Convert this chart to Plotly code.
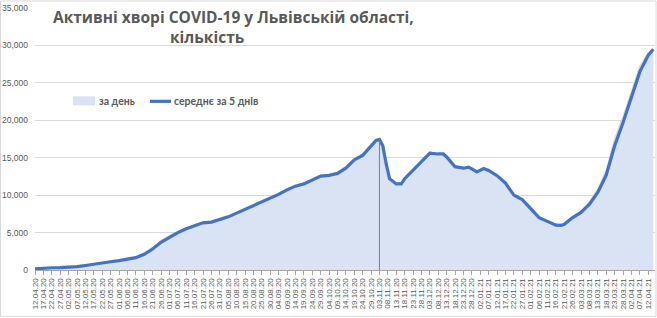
import plotly.graph_objects as go

dates = ["2020-04-12","2020-04-17","2020-04-22","2020-04-27","2020-05-02","2020-05-07","2020-05-12",
         "2020-05-17","2020-05-22","2020-05-27","2020-06-01","2020-06-06","2020-06-11","2020-06-16",
         "2020-06-21","2020-06-26","2020-07-01","2020-07-06","2020-07-11","2020-07-16","2020-07-21",
         "2020-07-26","2020-07-31","2020-08-05","2020-08-10","2020-08-15","2020-08-20","2020-08-25",
         "2020-08-30","2020-09-04","2020-09-09","2020-09-14","2020-09-19","2020-09-24","2020-09-29",
         "2020-10-04","2020-10-09","2020-10-14","2020-10-19","2020-10-24","2020-10-29","2020-11-01",
         "2020-11-03","2020-11-05","2020-11-07","2020-11-09","2020-11-13","2020-11-16","2020-11-18",
         "2020-11-23","2020-11-28","2020-12-03","2020-12-08","2020-12-11","2020-12-13","2020-12-18",
         "2020-12-23","2020-12-26","2020-12-28","2020-12-31","2021-01-04","2021-01-07","2021-01-12",
         "2021-01-17","2021-01-22","2021-01-27","2021-02-01","2021-02-06","2021-02-11","2021-02-16",
         "2021-02-19","2021-02-21","2021-02-26","2021-03-03","2021-03-08","2021-03-13","2021-03-18",
         "2021-03-23","2021-03-28","2021-04-02","2021-04-07","2021-04-12","2021-04-15"]

avg5 = [150,250,300,330,380,450,600,800,950,1100,1250,1400,1650,2100,2800,3700,4400,5000,5500,5900,
        6300,6400,6700,7100,7600,8100,8600,9000,9500,10100,10700,11200,11500,12000,12550,12650,12900,
        13600,14700,15300,16500,17300,17450,16600,14200,12200,11500,11500,12200,13300,14400,15600,
        15500,15500,15100,13800,13600,13750,13500,13100,13550,13300,12600,11600,10000,9400,8200,7000,
        6500,6000,5950,6100,7000,7700,8800,10400,12700,16600,19700,23100,26500,28700,29500]

daily = [200,270,310,350,400,500,650,850,980,1150,1300,1450,1750,2300,3050,3950,4650,5200,5650,6050,
         6350,6450,6800,7200,7700,8250,8700,9150,9650,10250,10850,11300,11600,12150,12600,12700,13000,
         13900,14900,15600,16900,17450,17400,15500,12800,11800,11450,11700,12400,13500,14700,15800,
         15500,15400,14700,13700,13700,13700,13400,13200,13500,13100,12400,11300,9800,9200,8000,6900,
         6400,5950,6000,6200,7150,7900,9100,10900,13400,17600,20600,24000,27300,29000,29600]

marker_date = "2020-11-03"
title_line1 = "Активні хворі COVID-19 у Львівській області,"
title_line2 = "кількість"
name_daily = "за день"
name_avg = "середнє за 5 днів"

grey_text = "#595959"
area_color = "#dae3f3"
line_color = "#4472c4"

# plot area in pixels (for converting layout positions to paper fractions)
L, R, T, B = 35, 655, 7.5, 270
def px(xp):
    return (xp - L) / (R - L)
def py(yp):
    return (B - yp) / (B - T)

fig = go.Figure()
fig.add_trace(go.Scatter(x=dates, y=daily, mode="lines", fill="tozeroy",
                         fillcolor=area_color, line=dict(color="#cfd9ec", width=1),
                         name=name_daily, showlegend=False))
fig.add_trace(go.Scatter(x=dates, y=avg5, mode="lines",
                         line=dict(color=line_color, width=3.2),
                         name=name_avg, showlegend=False))

peak_val = avg5[dates.index(marker_date)]
fig.add_shape(type="line", xref="x", yref="y", x0=marker_date, x1=marker_date,
              y0=0, y1=peak_val, line=dict(color="#7f7f7f", width=1))

# outer chart border
fig.add_shape(type="rect", xref="paper", yref="paper", x0=px(0.5), x1=px(656),
              y0=py(316.5), y1=py(0.5), line=dict(color="#d9d9d9", width=1), layer="below")

# title
fig.add_annotation(text="<b>" + title_line1 + "</b>", xref="paper", yref="paper",
                   x=px(233), y=py(17), xanchor="center", yanchor="middle", showarrow=False,
                   font=dict(family="Open Sans", size=15.5, color=grey_text))
fig.add_annotation(text="<b>" + title_line2 + "</b>", xref="paper", yref="paper",
                   x=px(207), y=py(37), xanchor="center", yanchor="middle", showarrow=False,
                   font=dict(family="Open Sans", size=15.5, color=grey_text))

# legend (drawn manually to match compact Excel legend)
fig.add_shape(type="rect", xref="paper", yref="paper", x0=px(73), x1=px(95),
              y0=py(105), y1=py(96), line=dict(width=0), fillcolor=area_color)
fig.add_annotation(text="<b>" + name_daily + "</b>", xref="paper", yref="paper",
                   x=px(97), y=py(101), xanchor="left", yanchor="middle", showarrow=False,
                   font=dict(family="Lato", size=10.5, color=grey_text))
fig.add_shape(type="line", xref="paper", yref="paper", x0=px(150), x1=px(171),
              y0=py(101), y1=py(101), line=dict(color=line_color, width=3.2))
fig.add_annotation(text="<b>" + name_avg + "</b>", xref="paper", yref="paper",
                   x=px(172), y=py(101), xanchor="left", yanchor="middle", showarrow=False,
                   font=dict(family="Lato", size=10.5, color=grey_text))

fig.update_layout(
    width=657, height=318,
    margin=dict(l=L, r=657 - R, t=T, b=318 - B),
    paper_bgcolor="white", plot_bgcolor="white",
    font=dict(family="Liberation Sans", color=grey_text),
    showlegend=False,
    xaxis=dict(type="date", range=["2020-04-12", "2021-04-16"],
               tick0="2020-04-12", dtick=5*86400000, tickformat="%d.%m.%y",
               tickangle=-90, tickfont=dict(size=8, color=grey_text),
               ticks="outside", ticklen=4, tickcolor="#a6a6a6",
               showline=True, linecolor="#a6a6a6", linewidth=1,
               showgrid=False, zeroline=False),
    yaxis=dict(range=[0, 35000], dtick=5000, tickformat=",d",
               tickfont=dict(size=8.5, color=grey_text),
               showgrid=True, gridcolor="#d9d9d9", gridwidth=1,
               zeroline=False, ticklabelstandoff=6),
)

fig.write_html("out.html")
